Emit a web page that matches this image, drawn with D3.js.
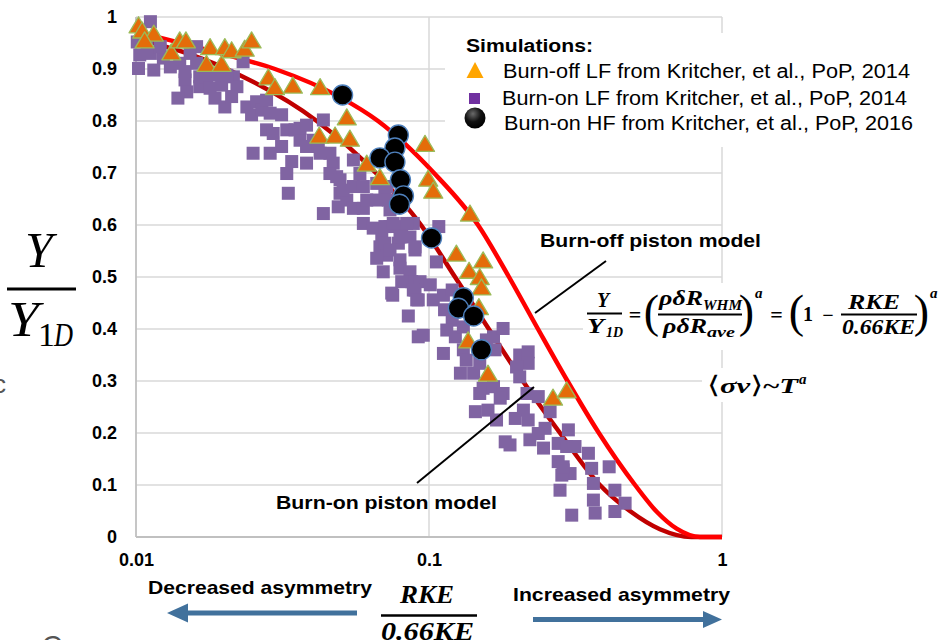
<!DOCTYPE html>
<html>
<head>
<meta charset="utf-8">
<script src="https://cdn.jsdelivr.net/npm/d3@7"></script>
<style>
  body { margin: 0; background: #ffffff; }
  svg { display: block; }
</style>
</head>
<body>
<svg id="chart" width="941" height="640"></svg>
<script>
// ---- Data -----------------------------------------------------------------
// Burn-off LF simulations (RKE/0.66KE, Y/Y1D)
const burnOffLF = [
  [0.0102,0.985],[0.0105,0.975],[0.0115,0.969],[0.0107,0.956],[0.0132,0.933],
  [0.0141,0.956],[0.0148,0.956],[0.0179,0.943],[0.0174,0.911],[0.0196,0.911],
  [0.0201,0.943],[0.0212,0.937],[0.0235,0.940],[0.0248,0.956],[0.0283,0.885],
  [0.0298,0.866],[0.0343,0.869],[0.0425,0.866],[0.0524,0.808],[0.0422,0.773],
  [0.0478,0.773],[0.0537,0.767],[0.0613,0.719],[0.068,0.693],[0.0969,0.757],
  [0.0994,0.690],[0.1034,0.667],[0.138,0.623],[0.124,0.546],[0.153,0.533],
  [0.137,0.513],[0.149,0.501],[0.151,0.481],[0.148,0.443],[0.136,0.379],
  [0.159,0.315],[0.265,0.269],[0.295,0.283]
];

// Burn-on LF simulations
const burnOnLF = [
  [0.0112,0.991],[0.0101,0.952],[0.0109,0.949],[0.0103,0.927],[0.0112,0.930],
  [0.0102,0.901],[0.0115,0.898],[0.0124,0.921],[0.0121,0.943],[0.0131,0.904],
  [0.0141,0.911],[0.0147,0.895],[0.0147,0.879],[0.0149,0.856],[0.0139,0.844],
  [0.0153,0.930],[0.0161,0.943],[0.0161,0.911],[0.0165,0.885],[0.0165,0.866],
  [0.0174,0.885],[0.0179,0.863],[0.0186,0.844],[0.0201,0.827],[0.0196,0.869],
  [0.0215,0.885],[0.0221,0.866],[0.0212,0.847],[0.0232,0.914],[0.0189,0.888],
  [0.0204,0.888],[0.0239,0.827],[0.0248,0.812],[0.0258,0.837],[0.0269,0.821],
  [0.0279,0.840],[0.0287,0.815],[0.0279,0.783],[0.0294,0.776],[0.0314,0.812],
  [0.0327,0.783],[0.0349,0.783],[0.0363,0.763],[0.0314,0.751],[0.0251,0.738],
  [0.0287,0.738],[0.0363,0.786],[0.0382,0.792],[0.0403,0.763],[0.0382,0.751],
  [0.0419,0.751],[0.0436,0.802],[0.0425,0.738],[0.0459,0.738],[0.0471,0.719],
  [0.0484,0.693],[0.0459,0.699],[0.0497,0.687],[0.0327,0.699],[0.0340,0.722],
  [0.0382,0.719],[0.0331,0.661],[0.0497,0.661],[0.0524,0.648],[0.0552,0.674],
  [0.0552,0.725],[0.0581,0.699],[0.0597,0.674],[0.0552,0.632],[0.0597,0.632],
  [0.0436,0.622],[0.0613,0.648],[0.0663,0.648],[0.0717,0.674],[0.0736,0.629],
  [0.0490,0.635],[0.0597,0.603],[0.0645,0.594],[0.0690,0.577],[0.0736,0.597],
  [0.0807,0.597],[0.0680,0.558],[0.0717,0.542],[0.0663,0.536],[0.0786,0.565],
  [0.0861,0.577],[0.0896,0.552],[0.0796,0.533],[0.0796,0.517],[0.0698,0.510],
  [0.0861,0.510],[0.0873,0.491],[0.0896,0.475],[0.0908,0.456],[0.0752,0.465],
  [0.0850,0.425],[0.0919,0.385],[0.0884,0.603],[0.0707,0.597],[0.0796,0.577],
  [0.0707,0.565],[0.0736,0.552],[0.0896,0.558],[0.108,0.597],[0.106,0.529],
  [0.0807,0.491],[0.0932,0.491],[0.0884,0.475],[0.101,0.485],[0.0746,0.469],
  [0.0919,0.456],[0.1034,0.456],[0.112,0.465],[0.113,0.437],[0.120,0.475],
  [0.120,0.417],[0.115,0.398],[0.0956,0.388],[0.123,0.385],[0.131,0.404],
  [0.112,0.353],[0.131,0.360],[0.134,0.340],[0.128,0.315],[0.142,0.315],
  [0.149,0.334],[0.157,0.379],[0.166,0.385],[0.179,0.401],[0.168,0.360],
  [0.153,0.286],[0.166,0.289],[0.179,0.276],[0.204,0.350],[0.218,0.356],
  [0.218,0.334],[0.199,0.327],[0.204,0.308],[0.216,0.276],[0.236,0.270],
  [0.144,0.241],[0.159,0.244],[0.149,0.276],[0.175,0.267],[0.170,0.225],
  [0.197,0.228],[0.210,0.244],[0.218,0.225],[0.259,0.241],[0.249,0.209],
  [0.236,0.199],[0.221,0.187],[0.182,0.183],[0.189,0.177],[0.246,0.171],
  [0.276,0.180],[0.295,0.174],[0.315,0.174],[0.299,0.206],[0.350,0.161],
  [0.276,0.145],[0.287,0.129],[0.303,0.122],[0.284,0.119],[0.359,0.132],
  [0.412,0.135],[0.280,0.090],[0.364,0.103],[0.364,0.071],[0.431,0.090],
  [0.467,0.065],[0.369,0.046],[0.431,0.049],[0.307,0.042],[0.287,0.135],
  [0.0509,0.667],[0.0663,0.680],[0.0707,0.671],[0.0726,0.648],[0.0755,0.603],
  [0.0839,0.603]
];

// Burn-on HF simulations
const burnOnHF = [
  [0.0507,0.850],[0.0786,0.773],[0.0765,0.748],[0.068,0.729],[0.0765,0.721],
  [0.0799,0.687],[0.0818,0.656],[0.0793,0.640],[0.102,0.575],[0.131,0.460],
  [0.126,0.440],[0.142,0.425],[0.151,0.360]
];

// Piston model curves
const burnOffModelX = [0.01, 0.02, 0.0298, 0.05, 0.067, 0.104, 0.147, 0.1875, 0.2355, 0.297, 0.380, 0.505, 0.600, 0.700, 0.841, 1];
const burnOffModelY = [0.972, 0.928, 0.900, 0.845, 0.800, 0.700, 0.600, 0.500, 0.400, 0.300, 0.200, 0.100, 0.048, 0.016, 0, 0];
const burnOnModelX  = [0.01, 0.0204, 0.0414, 0.0659, 0.0939, 0.1227, 0.160, 0.209, 0.280, 0.383, 0.485, 0.614, 0.785, 1];
const burnOnModelY  = [0.960, 0.900, 0.800, 0.700, 0.600, 0.500, 0.400, 0.300, 0.200, 0.100, 0.050, 0.015, 0, 0];

// Axes
const xTicks = [0.01, 0.1, 1];
const xTickLabels = ["0.01", "0.1", "1"];
const yTicks = [0, 0.1, 0.2, 0.3, 0.4, 0.5, 0.6, 0.7, 0.8, 0.9, 1];
const yTickLabels = ["0", "0.1", "0.2", "0.3", "0.4", "0.5", "0.6", "0.7", "0.8", "0.9", "1"];

const legendLabels = [
  "Burn-off LF from Kritcher, et al., PoP, 2014",
  "Burn-on LF from Kritcher, et al., PoP, 2014",
  "Burn-on HF from Kritcher, et al., PoP, 2016"
];

// ---- Setup ----------------------------------------------------------------
const SANS = "'Liberation Sans', Arial, Helvetica, sans-serif";
const SERIF = "'Liberation Serif', 'DejaVu Serif', serif";
const svg = d3.select("#chart");

const x = d3.scaleLog().domain([0.01, 1]).range([136, 722]);
const y = d3.scaleLinear().domain([0, 1]).range([537, 17]);

function txt(parent, str, px, py, o = {}) {
  const t = parent.append("text")
    .attr("x", px).attr("y", py)
    .attr("font-family", o.family || SANS)
    .attr("font-size", o.size || 16)
    .attr("font-weight", o.weight || "normal")
    .attr("font-style", o.style || "normal")
    .attr("text-anchor", o.anchor || "start")
    .attr("fill", o.fill || "#000")
    .text(str);
  if (o.len) t.attr("textLength", o.len).attr("lengthAdjust", "spacingAndGlyphs");
  return t;
}

const defs = svg.append("defs");
const grad = defs.append("radialGradient").attr("id", "ballGrad")
  .attr("cx", "40%").attr("cy", "30%").attr("r", "70%");
grad.append("stop").attr("offset", "0%").attr("stop-color", "#6a6a6a");
grad.append("stop").attr("offset", "55%").attr("stop-color", "#111");
grad.append("stop").attr("offset", "100%").attr("stop-color", "#000");

// ---- Grid -----------------------------------------------------------------
const grid = svg.append("g");
grid.selectAll("line.h").data(yTicks.filter(d => d > 0)).join("line")
  .attr("x1", x(0.01)).attr("x2", x(1))
  .attr("y1", d => y(d)).attr("y2", d => y(d))
  .attr("stroke", "#d9d9d9").attr("stroke-width", 1.5);
grid.selectAll("line.v").data(xTicks.filter(d => d > 0.01)).join("line")
  .attr("x1", d => x(d)).attr("x2", d => x(d))
  .attr("y1", y(0)).attr("y2", y(1))
  .attr("stroke", "#d9d9d9").attr("stroke-width", 1.5);

// axis lines
svg.append("line").attr("x1", x(0.01)).attr("x2", x(0.01)).attr("y1", y(1)).attr("y2", y(0))
  .attr("stroke", "#c0c0c0").attr("stroke-width", 1.8);
svg.append("line").attr("x1", x(0.01)).attr("x2", x(1)).attr("y1", y(0)).attr("y2", y(0))
  .attr("stroke", "#c0c0c0").attr("stroke-width", 1.8);

// tick labels through d3 axes
const yAxis = d3.axisLeft(y).tickValues(yTicks).tickSize(0).tickPadding(19)
  .tickFormat((d, i) => yTickLabels[i]);
const gy = svg.append("g").attr("transform", `translate(${x(0.01)},0)`).call(yAxis);
gy.select(".domain").remove();
gy.selectAll("text").attr("font-family", SANS).attr("font-size", 18)
  .attr("font-weight", "bold").attr("fill", "#000");

const xAxis = d3.axisBottom(x).tickValues(xTicks).tickSize(0).tickPadding(16)
  .tickFormat((d, i) => xTickLabels[i]);
const gx = svg.append("g").attr("transform", `translate(0,${y(0)})`).call(xAxis);
gx.select(".domain").remove();
gx.selectAll("text").attr("font-family", SANS).attr("font-size", 18)
  .attr("font-weight", "bold").attr("fill", "#000");

// ---- Model curves ---------------------------------------------------------
const line = d3.line().x(d => x(d[0])).y(d => y(d[1])).curve(d3.curveMonotoneX);
const burnOnModel = burnOnModelX.map((v, i) => [v, burnOnModelY[i]]);
const burnOffModel = burnOffModelX.map((v, i) => [v, burnOffModelY[i]]);
svg.append("path").attr("d", line(burnOnModel)).attr("fill", "none")
  .attr("stroke", "#c00000").attr("stroke-width", 4.5);
svg.append("path").attr("d", line(burnOffModel)).attr("fill", "none")
  .attr("stroke", "#ff0000").attr("stroke-width", 4.5);

// ---- Simulation markers ---------------------------------------------------
const SQ = 13;
svg.append("g").selectAll("rect").data(burnOnLF).join("rect")
  .attr("x", d => x(d[0]) - SQ / 2).attr("y", d => y(d[1]) - SQ / 2)
  .attr("width", SQ).attr("height", SQ)
  .attr("fill", "#8064a2");

const triPath = (w, h) => `M0,${-h / 2}L${w / 2},${h / 2}L${-w / 2},${h / 2}Z`;
svg.append("g").selectAll("path").data(burnOffLF).join("path")
  .attr("d", triPath(19, 16))
  .attr("transform", d => `translate(${x(d[0])},${y(d[1])})`)
  .attr("fill", "#e46c0a").attr("stroke", "#9bbb59").attr("stroke-width", 1.3)
  .attr("stroke-linejoin", "round");

svg.append("g").selectAll("circle").data(burnOnHF).join("circle")
  .attr("cx", d => x(d[0])).attr("cy", d => y(d[1])).attr("r", 10)
  .attr("fill", "#000").attr("stroke", "#4f81bd").attr("stroke-width", 1.4);

// ---- Legend ---------------------------------------------------------------
const lg = svg.append("g");
lg.append("rect").attr("x", 445).attr("y", 33).attr("width", 496).attr("height", 114).attr("fill", "#fff");
txt(lg, "Simulations:", 466, 52, { size: 18, weight: "bold", len: 127 });
lg.append("path").attr("d", triPath(17, 16)).attr("transform", "translate(475,70)").attr("fill", "#ffa500");
lg.append("rect").attr("x", 469).attr("y", 93).attr("width", 11).attr("height", 11).attr("fill", "#7030a0");
lg.append("circle").attr("cx", 475).attr("cy", 118).attr("r", 10.5).attr("fill", "url(#ballGrad)");
txt(lg, legendLabels[0], 503, 78, { size: 19.5, len: 407 });
txt(lg, legendLabels[1], 502, 105, { size: 19.5, len: 405 });
txt(lg, legendLabels[2], 504, 130, { size: 19.5, len: 409 });

// ---- Model annotations ----------------------------------------------------
const ann = svg.append("g");
txt(ann, "Burn-off piston model", 540, 247, { size: 18.5, weight: "bold", len: 221 });
ann.append("line").attr("x1", 606).attr("y1", 261).attr("x2", 535).attr("y2", 313)
  .attr("stroke", "#000").attr("stroke-width", 2);
txt(ann, "Burn-on piston model", 276, 509, { size: 18.5, weight: "bold", len: 221 });
ann.append("line").attr("x1", 417).attr("y1", 483).attr("x2", 534).attr("y2", 387)
  .attr("stroke", "#000").attr("stroke-width", 2);

// ---- Model formula --------------------------------------------------------
const fm = svg.append("g");
fm.append("rect").attr("x", 583).attr("y", 283).attr("width", 358).attr("height", 67).attr("fill", "#fff");
const FB = { family: SERIF, weight: "bold", style: "italic", size: 20 };
const bar = (g, x1, x2, yy, w) => g.append("line").attr("x1", x1).attr("x2", x2)
  .attr("y1", yy).attr("y2", yy).attr("stroke", "#000").attr("stroke-width", w || 2);

txt(fm, "Y", 603, 307, { ...FB, anchor: "middle" });
bar(fm, 587, 622, 313.5);
txt(fm, "Y", 587, 333, { ...FB, len: 17 });
txt(fm, "1D", 606, 337, { ...FB, size: 14, len: 17 });
txt(fm, "=", 635, 322, { family: SERIF, weight: "bold", size: 22, anchor: "middle" });
txt(fm, "(", 651.5, 327, { family: SERIF, size: 46, anchor: "middle" });
txt(fm, "ρδR", 659, 305, { ...FB, len: 44 });
txt(fm, "WHM", 703, 310, { ...FB, size: 14, len: 39 });
bar(fm, 658, 742, 314.5);
txt(fm, "ρδR", 663, 333, { ...FB, len: 44 });
txt(fm, "ave", 707, 337, { ...FB, size: 14, len: 28 });
txt(fm, ")", 746.5, 327, { family: SERIF, size: 46, anchor: "middle" });
txt(fm, "a", 755, 298, { ...FB, size: 15 });
txt(fm, "=", 776.5, 322, { family: SERIF, weight: "bold", size: 22, anchor: "middle" });
txt(fm, "(", 796.5, 327, { family: SERIF, size: 46, anchor: "middle" });
txt(fm, "1", 803, 321, { family: SERIF, weight: "bold", size: 20 });
txt(fm, "\u2212", 828, 322, { family: SERIF, weight: "bold", size: 20, anchor: "middle" });
txt(fm, "RKE", 848, 309, { ...FB, len: 52 });
bar(fm, 841, 917, 314.5);
txt(fm, "0.66KE", 842, 334, { ...FB, len: 73 });
txt(fm, ")", 921.5, 327, { family: SERIF, size: 46, anchor: "middle" });
txt(fm, "a", 930, 298, { ...FB, size: 15 });

// reaction-rate scaling, with thin angle brackets
fm.append("rect").attr("x", 702).attr("y", 368).attr("width", 110).attr("height", 34).attr("fill", "#fff");
const sv = fm.append("text").attr("x", 707).attr("y", 393)
  .attr("font-family", SERIF).attr("font-size", 22)
  .attr("textLength", 91).attr("lengthAdjust", "spacingAndGlyphs");
sv.append("tspan").attr("font-family", "'DejaVu Sans', sans-serif").attr("font-size", 24).text("\u27E8");
sv.append("tspan").attr("font-weight", "bold").attr("font-style", "italic").text("\u03C3v");
sv.append("tspan").attr("font-family", "'DejaVu Sans', sans-serif").attr("font-size", 24).text("\u27E9");
sv.append("tspan").attr("font-weight", "bold").text("~");
sv.append("tspan").attr("font-weight", "bold").attr("font-style", "italic").text("T");
txt(fm, "a", 799, 384, { ...FB, size: 15 });

// ---- Y axis title ---------------------------------------------------------
const yt = svg.append("g");
txt(yt, "Y", 39, 267, { family: SERIF, style: "italic", size: 50, anchor: "middle" });
yt.append("line").attr("x1", 7).attr("x2", 76).attr("y1", 289).attr("y2", 289)
  .attr("stroke", "#000").attr("stroke-width", 3);
txt(yt, "Y", 8, 336, { family: SERIF, style: "italic", size: 50, len: 31 });
txt(yt, "1", 38, 346, { family: SERIF, size: 34 });
txt(yt, "D", 54, 346, { family: SERIF, style: "italic", size: 34, len: 19 });

// clipped lettering at the page edge
txt(svg, "c", 6, 393, { size: 26, fill: "#555", anchor: "end" });
txt(svg, "C", 42, 655, { size: 28, fill: "#555" });

// ---- X axis title and direction arrows ------------------------------------
const xt = svg.append("g");
txt(xt, "Decreased asymmetry", 148, 594, { size: 19, weight: "bold", len: 224 });
txt(xt, "Increased asymmetry", 513, 601, { size: 19, weight: "bold", len: 217 });
txt(xt, "RKE", 427, 603, { family: SERIF, weight: "bold", style: "italic", size: 26, anchor: "middle", len: 54 });
xt.append("line").attr("x1", 381).attr("x2", 477).attr("y1", 615.5).attr("y2", 615.5)
  .attr("stroke", "#000").attr("stroke-width", 2.5);
txt(xt, "0.66KE", 381, 640, { family: SERIF, weight: "bold", style: "italic", size: 26, len: 93 });

const ARROW = "#41719c";
xt.append("path")
  .attr("d", "M167,613 L188,603.5 L188,610.5 L357,610.5 L357,615.5 L188,615.5 L188,622.5 Z")
  .attr("fill", ARROW);
xt.append("path")
  .attr("d", "M722,619.5 L703,611 L703,617 L533,617 L533,622 L703,622 L703,628 Z")
  .attr("fill", ARROW);
</script>
</body>
</html>
